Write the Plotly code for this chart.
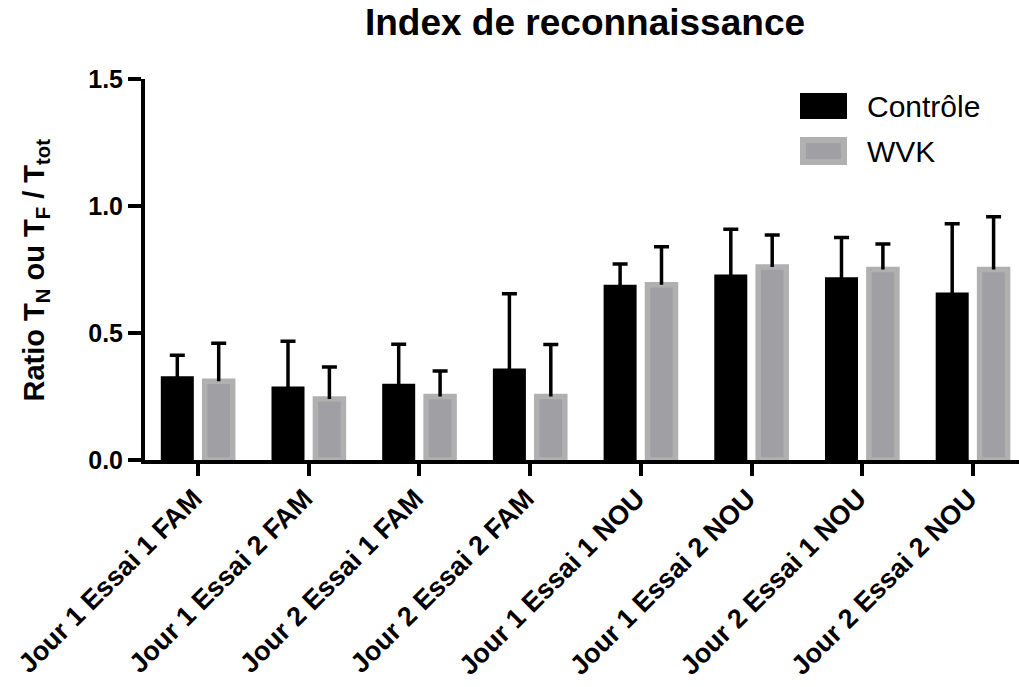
import plotly.graph_objects as go

# ---------------- data ----------------
categories = [
    "Jour 1 Essai 1 FAM", "Jour 1 Essai 2 FAM", "Jour 2 Essai 1 FAM", "Jour 2 Essai 2 FAM",
    "Jour 1 Essai 1 NOU", "Jour 1 Essai 2 NOU", "Jour 2 Essai 1 NOU", "Jour 2 Essai 2 NOU",
]
controle_mean = [0.32, 0.28, 0.29, 0.35, 0.68, 0.72, 0.71, 0.65]
controle_err = [0.092, 0.188, 0.166, 0.305, 0.092, 0.188, 0.166, 0.28]
wvk_mean = [0.31, 0.24, 0.25, 0.25, 0.69, 0.76, 0.75, 0.75]
wvk_err = [0.15, 0.126, 0.10, 0.205, 0.15, 0.126, 0.10, 0.208]
y_ticks = [0.0, 0.5, 1.0, 1.5]
series_names = ["Contrôle", "WVK"]

# ---------------- style / layout constants ----------------
W, H = 1019, 687
ML, MR, MT, MB = 145, 0, 79, 227
PLOT_W = W - ML - MR
PLOT_H = H - MT - MB
X_RANGE = [-0.4788, 7.4165]
OFFSET = 0.187
BAR_W = 0.253
FONT = "Liberation Sans, Arial, Helvetica, sans-serif"
GRAY_FILL = "#a0a0a4"
GRAY_LINE = "#b0b0b0"


def px_x(px):
    return (px - ML) / PLOT_W


def px_y(py):
    return (H - MB - py) / PLOT_H


idx = list(range(len(categories)))
x_ctrl = [i - OFFSET for i in idx]
x_wvk = [i + OFFSET for i in idx]

fig = go.Figure()

# bars with error stems (no caps)
fig.add_trace(go.Bar(
    x=x_ctrl, y=controle_mean, width=BAR_W, name=series_names[0],
    marker=dict(color="black", line=dict(color="black", width=5)),
    error_y=dict(type="data", symmetric=False, array=controle_err,
                 arrayminus=[0] * len(idx), width=0, thickness=3.5, color="black"),
    showlegend=False,
))
fig.add_trace(go.Bar(
    x=x_wvk, y=wvk_mean, width=BAR_W, name=series_names[1],
    marker=dict(color=GRAY_FILL, line=dict(color=GRAY_LINE, width=5.5)),
    error_y=dict(type="data", symmetric=False, array=wvk_err,
                 arrayminus=[0] * len(idx), width=0, thickness=3.5, color="black"),
    showlegend=False,
))

# caps at the top of each error bar
for xs, means, errs in [(x_ctrl, controle_mean, controle_err), (x_wvk, wvk_mean, wvk_err)]:
    fig.add_trace(go.Scatter(
        x=xs, y=[m + e for m, e in zip(means, errs)], mode="markers",
        marker=dict(size=1, color="rgba(0,0,0,0)"),
        error_y=dict(type="data", array=[0] * len(xs), width=7.5, thickness=3.5, color="black"),
        showlegend=False, hoverinfo="skip",
    ))

# manual legend
shapes = [
    dict(type="rect", xref="paper", yref="paper",
         x0=px_x(800), x1=px_x(847), y0=px_y(119), y1=px_y(93),
         fillcolor="black", line=dict(width=0)),
    dict(type="rect", xref="paper", yref="paper",
         x0=px_x(803), x1=px_x(844), y0=px_y(162), y1=px_y(140),
         fillcolor=GRAY_FILL, line=dict(color=GRAY_LINE, width=6)),
]
annotations = [
    dict(text=series_names[0], xref="paper", yref="paper", x=px_x(865), y=px_y(106),
         xanchor="left", yanchor="middle", showarrow=False,
         font=dict(family=FONT, size=30, color="black")),
    dict(text=series_names[1], xref="paper", yref="paper", x=px_x(865), y=px_y(151),
         xanchor="left", yanchor="middle", showarrow=False,
         font=dict(family=FONT, size=30, color="black")),
    dict(text="Ratio T<sub>N</sub> ou T<sub>F</sub> / T<sub>tot</sub>",
         xref="paper", yref="paper", x=px_x(35), y=0.5, textangle=-90,
         xanchor="center", yanchor="middle", showarrow=False,
         font=dict(family=FONT, size=29, color="black", weight="bold")),
]

fig.update_layout(
    width=W, height=H,
    margin=dict(l=ML, r=MR, t=MT, b=MB, autoexpand=False),
    paper_bgcolor="white", plot_bgcolor="white",
    barmode="overlay",
    title=dict(text="Index de reconnaissance", x=px_x(585), xref="paper", xanchor="center",
               y=1 - 22 / H, yref="container", yanchor="middle",
               font=dict(family=FONT, size=37, color="black", weight="bold")),
    shapes=shapes, annotations=annotations,
    showlegend=False,
)
fig.update_xaxes(
    range=X_RANGE, tickvals=idx, ticktext=categories, tickangle=-45,
    showgrid=False, zeroline=False, automargin=False,
    showline=True, linewidth=4, linecolor="black",
    ticks="outside", ticklen=12, tickwidth=4, tickcolor="black",
    ticklabelstandoff=-4, ticklabelshift=-4,
    tickfont=dict(family=FONT, size=27, color="black", weight="bold"),
)
fig.update_yaxes(
    range=[0, 1.5], tickvals=y_ticks, tickformat=".1f",
    showgrid=False, zeroline=False, automargin=False,
    showline=True, linewidth=4, linecolor="black",
    ticks="outside", ticklen=13, tickwidth=4, tickcolor="black",
    tickfont=dict(family=FONT, size=25, color="black", weight="bold"),
)

fig.write_html("out.html")
